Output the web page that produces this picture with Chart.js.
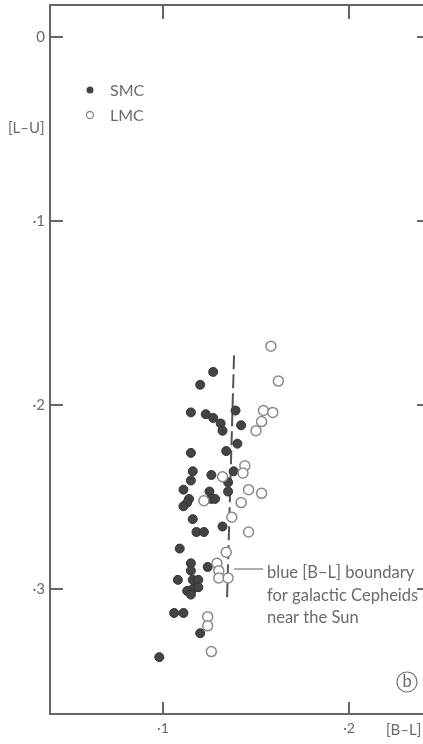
<!DOCTYPE html>
<html>
<head>
<meta charset="utf-8">
<script src="https://cdn.jsdelivr.net/npm/chart.js@4.4.1/dist/chart.umd.min.js"></script>
<style>
  body { margin: 0; background: #fff; }
  #wrap { width: 423px; height: 744px; }
</style>
</head>
<body>
<div id="wrap"><canvas id="chart" width="423" height="744"></canvas></div>
<script>
// [B-L] and [L-U] colours
var smcX = [0.127, 0.120, 0.115, 0.123, 0.127, 0.131, 0.132, 0.139, 0.142, 0.140,
            0.115, 0.134, 0.116, 0.126, 0.138, 0.115, 0.135, 0.135, 0.111, 0.125,
            0.126, 0.128, 0.114, 0.113, 0.111, 0.116, 0.132, 0.118, 0.122, 0.109,
            0.115, 0.115, 0.124, 0.108, 0.116, 0.119, 0.116, 0.119, 0.113, 0.115,
            0.106, 0.111, 0.120, 0.098];
var smcY = [0.182, 0.189, 0.204, 0.205, 0.207, 0.210, 0.214, 0.203, 0.211, 0.221,
            0.226, 0.225, 0.236, 0.238, 0.236, 0.241, 0.242, 0.247, 0.246, 0.247,
            0.251, 0.251, 0.251, 0.253, 0.255, 0.262, 0.266, 0.269, 0.269, 0.278,
            0.286, 0.290, 0.288, 0.295, 0.295, 0.295, 0.300, 0.299, 0.301, 0.303,
            0.313, 0.313, 0.324, 0.337];

var lmcX = [0.158, 0.162, 0.154, 0.159, 0.153, 0.150, 0.144, 0.143, 0.132, 0.146,
            0.153, 0.122, 0.142, 0.137, 0.146, 0.134, 0.129, 0.130, 0.130, 0.135,
            0.124, 0.124, 0.126];
var lmcY = [0.168, 0.187, 0.203, 0.204, 0.209, 0.214, 0.233, 0.237, 0.239, 0.246,
            0.248, 0.252, 0.253, 0.261, 0.269, 0.280, 0.286, 0.290, 0.294, 0.294,
            0.315, 0.320, 0.334];

// blue [B-L] boundary for galactic Cepheids near the Sun
var boundaryX = [0.1382, 0.1344];
var boundaryY = [0.173, 0.306];

var xTickValues = [0.1, 0.2];
var xTickLabels = ['\u00b71', '\u00b72'];
var yTickValues = [0, 0.1, 0.2, 0.3];
var yTickLabels = ['0', '\u00b71', '\u00b72', '\u00b73'];

var seriesNames = ['SMC', 'LMC'];
var noteLines = ['blue [B\u2013L] boundary', 'for galactic Cepheids', 'near the Sun'];

var ink = '#6a6a6a';
var font = 'Lato, "Noto Sans", sans-serif';

function toPoints(xs, ys) {
  return xs.map(function(x, i) { return { x: x, y: ys[i] }; });
}

// keep the plot box where the figure has it
function noPadding(s) {
  s.paddingTop = 0; s.paddingBottom = 0; s.paddingLeft = 0; s.paddingRight = 0;
}

// frame ticks, titles, legend and note
var extras = {
  id: 'extras',
  afterDraw: function(chart) {
    var ctx = chart.ctx;
    var a = chart.chartArea;
    var xs = chart.scales.x, ys = chart.scales.y;
    ctx.save();
    ctx.strokeStyle = '#666';
    ctx.lineWidth = 2;
    ctx.beginPath();
    ctx.moveTo(a.left - 1, a.top);
    ctx.lineTo(a.right, a.top);
    xTickValues.forEach(function(v) {
      var px = xs.getPixelForValue(v);
      ctx.moveTo(px, a.bottom); ctx.lineTo(px, a.bottom - 12);
      ctx.moveTo(px, a.top); ctx.lineTo(px, a.top + 14);
    });
    yTickValues.forEach(function(v) {
      var py = ys.getPixelForValue(v);
      ctx.moveTo(a.left, py); ctx.lineTo(a.left + 13, py);
      ctx.moveTo(a.right, py); ctx.lineTo(a.right - 6, py);
    });
    ctx.stroke();

    ctx.fillStyle = ink;
    ctx.font = '15px ' + font;
    ctx.textBaseline = 'middle';
    ctx.textAlign = 'left';
    ctx.fillText('[L\u2013U]', 8, 128);
    ctx.fillText('[B\u2013L]', 386, 730);

    // legend
    ctx.font = '16px ' + font;
    ctx.fillText(seriesNames[0], 110, 91);
    ctx.fillText(seriesNames[1], 110, 116);
    ctx.beginPath();
    ctx.arc(90, 90, 3.5, 0, Math.PI * 2);
    ctx.fillStyle = '#444';
    ctx.fill();
    ctx.beginPath();
    ctx.arc(90, 115, 3.5, 0, Math.PI * 2);
    ctx.strokeStyle = '#8a8a8a';
    ctx.lineWidth = 1.3;
    ctx.stroke();

    // note with leader line
    ctx.strokeStyle = '#777';
    ctx.lineWidth = 1.2;
    ctx.beginPath();
    ctx.moveTo(234, 569); ctx.lineTo(263, 569);
    ctx.stroke();
    ctx.fillStyle = ink;
    ctx.font = '16.5px ' + font;
    ctx.textBaseline = 'alphabetic';
    noteLines.forEach(function(t, i) {
      ctx.fillText(t, 267, 578 + i * 22.5);
    });

    // panel letter
    ctx.beginPath();
    ctx.arc(407, 682, 10, 0, Math.PI * 2);
    ctx.strokeStyle = '#777';
    ctx.lineWidth = 1.2;
    ctx.stroke();
    ctx.textAlign = 'center';
    ctx.textBaseline = 'middle';
    ctx.fillText('b', 407, 682);
    ctx.restore();
  }
};

new Chart(document.getElementById('chart'), {
  type: 'scatter',
  data: {
    datasets: [
      {
        label: seriesNames[1],
        data: toPoints(lmcX, lmcY),
        pointRadius: 5,
        pointBackgroundColor: '#fff',
        pointBorderColor: '#8a8a8a',
        pointBorderWidth: 1.5
      },
      {
        label: seriesNames[0],
        data: toPoints(smcX, smcY),
        pointRadius: 4.5,
        pointBackgroundColor: '#444',
        pointBorderColor: '#333',
        pointBorderWidth: 1
      },
      {
        type: 'line',
        label: 'boundary',
        data: toPoints(boundaryX, boundaryY),
        showLine: true,
        pointRadius: 0,
        borderColor: '#555',
        borderWidth: 2,
        borderDash: [14, 5]
      }
    ]
  },
  options: {
    responsive: false,
    animation: false,
    layout: { autoPadding: false, padding: { top: 5, right: 0, left: 0, bottom: 0 } },
    plugins: { legend: { display: false }, tooltip: { enabled: false } },
    scales: {
      x: {
        type: 'linear',
        min: 0.03925,
        max: 0.23978,
        grid: { display: false, drawTicks: false },
        border: { display: true, color: '#666', width: 2 },
        afterBuildTicks: function(s) { s.ticks = xTickValues.map(function(v) { return { value: v }; }); },
        afterFit: function(s) { s.height = 30; noPadding(s); },
        ticks: {
          padding: 6,
          color: ink,
          font: { family: font, size: 14 },
          callback: function(v, i) { return xTickLabels[i]; }
        }
      },
      y: {
        type: 'linear',
        reverse: true,
        min: -0.01739,
        max: 0.3679,
        grid: { display: false, drawTicks: false },
        border: { display: true, color: '#666', width: 2 },
        afterBuildTicks: function(s) { s.ticks = yTickValues.map(function(v) { return { value: v }; }); },
        afterFit: function(s) { s.width = 50; noPadding(s); },
        ticks: {
          padding: 5,
          color: ink,
          font: { family: font, size: 15 },
          callback: function(v, i) { return yTickLabels[i]; }
        }
      }
    }
  },
  plugins: [extras]
});
</script>
</body>
</html>
